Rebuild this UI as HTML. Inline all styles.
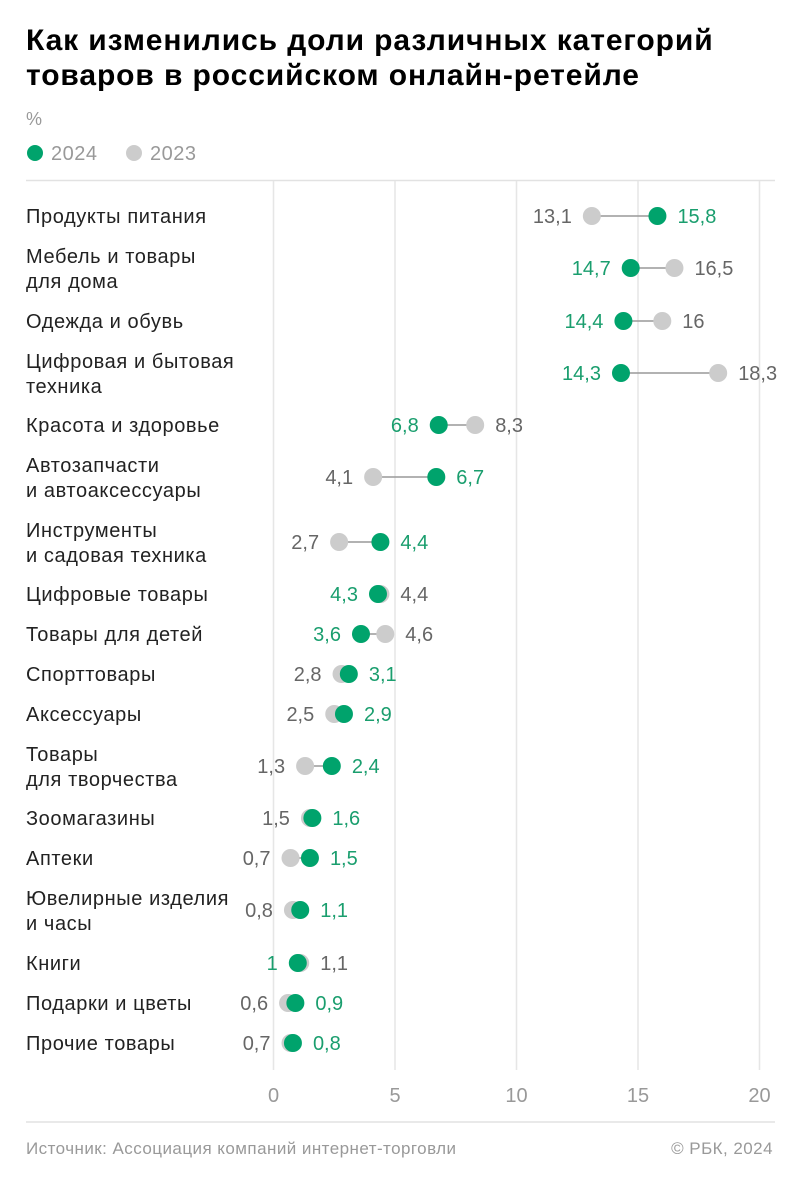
<!DOCTYPE html>
<html><head><meta charset="utf-8"><style>
html,body{margin:0;padding:0;background:#fff}
svg{display:block}
text{font-family:"Liberation Sans","DejaVu Sans",sans-serif}
</style></head><body>
<svg width="800" height="1180" viewBox="0 0 800 1180" xmlns="http://www.w3.org/2000/svg">
<text x="26" y="50" font-size="30" font-weight="bold" fill="#000" letter-spacing="0.9">Как изменились доли различных категорий</text>
<text x="26" y="85" font-size="30" font-weight="bold" fill="#000" letter-spacing="0.9">товаров в российском онлайн-ретейле</text>
<text x="26" y="125" font-size="18" fill="#999">%</text>
<circle cx="35" cy="153" r="8" fill="#00a36c"/>
<text x="51" y="160" font-size="20" fill="#999" letter-spacing="0.5">2024</text>
<circle cx="134" cy="153" r="8" fill="#cccccc"/>
<text x="150" y="160" font-size="20" fill="#999" letter-spacing="0.5">2023</text>
<line x1="26" y1="180.5" x2="775" y2="180.5" stroke="#e2e2e2" stroke-width="1.5"/>
<g stroke="#e6e6e6" stroke-width="1.5">
<line x1="273.5" y1="181" x2="273.5" y2="1070"/>
<line x1="395" y1="181" x2="395" y2="1070"/>
<line x1="516.5" y1="181" x2="516.5" y2="1070"/>
<line x1="638" y1="181" x2="638" y2="1070"/>
<line x1="759.5" y1="181" x2="759.5" y2="1070"/>
</g>
<g font-size="20" fill="#999" text-anchor="middle">
<text x="273.5" y="1102">0</text><text x="395" y="1102">5</text><text x="516.5" y="1102">10</text><text x="638" y="1102">15</text><text x="759.5" y="1102">20</text>
</g>
<line x1="26" y1="1122" x2="775" y2="1122" stroke="#e2e2e2" stroke-width="1.5"/>
<text x="26" y="1154" font-size="17" fill="#999" letter-spacing="0.45">Источник: Ассоциация компаний интернет-торговли</text>
<text x="773" y="1154" font-size="17" fill="#999" text-anchor="end" letter-spacing="0.45">© РБК, 2024</text>
<g id="rows"></g>
</svg>
<script>
var d=[["Продукты питания",null,216,15.8,13.1],
["Мебель и товары","для дома",268,14.7,16.5],
["Одежда и обувь",null,321,14.4,16],
["Цифровая и бытовая","техника",373,14.3,18.3],
["Красота и здоровье",null,425,6.8,8.3],
["Автозапчасти","и автоаксессуары",477,6.7,4.1],
["Инструменты","и садовая техника",542,4.4,2.7],
["Цифровые товары",null,594,4.3,4.4],
["Товары для детей",null,634,3.6,4.6],
["Спорттовары",null,674,3.1,2.8],
["Аксессуары",null,714,2.9,2.5],
["Товары","для творчества",766,2.4,1.3],
["Зоомагазины",null,818,1.6,1.5],
["Аптеки",null,858,1.5,0.7],
["Ювелирные изделия","и часы",910,1.1,0.8],
["Книги",null,963,1,1.1],
["Подарки и цветы",null,1003,0.9,0.6],
["Прочие товары",null,1043,0.8,0.7]];
var ns="http://www.w3.org/2000/svg",g=document.getElementById("rows");
function el(t,a,txt){var e=document.createElementNS(ns,t);for(var k in a)e.setAttribute(k,a[k]);if(txt!=null)e.textContent=txt;g.appendChild(e);return e;}
function X(v){return 273.5+v*24.3;}
function f(v){return String(v).replace(".",",");}
d.forEach(function(r){
 var y=r[2];
 var ts={"font-size":20,fill:"#222","letter-spacing":0.6};
 function T(yy,s){var a={x:26,y:yy};for(var k in ts)a[k]=ts[k];el("text",a,s);}
 if(r[1]){T(y-5,r[0]);T(y+20,r[1]);} else T(y+7,r[0]);
 var a=X(r[3]),b=X(r[4]);
 el("line",{x1:a,y1:y,x2:b,y2:y,stroke:"#999","stroke-width":1.5});
 el("circle",{cx:b,cy:y,r:9,fill:"#cccccc"});
 el("circle",{cx:a,cy:y,r:9,fill:"#00a36c"});
 var lo=Math.min(a,b),hi=Math.max(a,b);
 var gLeft=r[3]<=r[4];
 el("text",{x:lo-20,y:y+7,"font-size":20,fill:gLeft?"#1a9e6e":"#666","text-anchor":"end"},f(gLeft?r[3]:r[4]));
 el("text",{x:hi+20,y:y+7,"font-size":20,fill:gLeft?"#666":"#1a9e6e"},f(gLeft?r[4]:r[3]));
});
</script>
</body></html>
